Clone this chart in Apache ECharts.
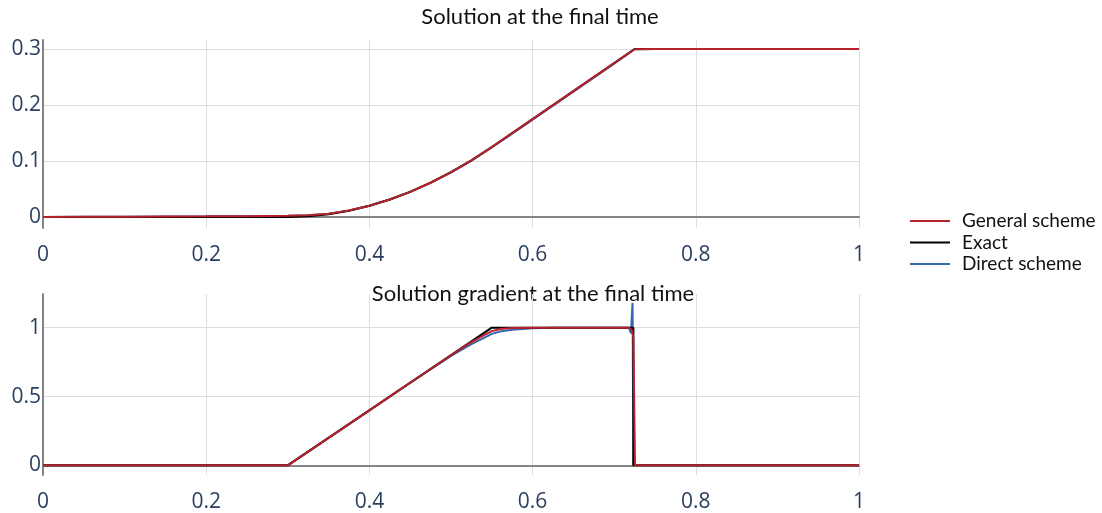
<!DOCTYPE html>
<html>
<head>
<meta charset="utf-8">
<script src="https://cdn.jsdelivr.net/npm/echarts@6/dist/echarts.min.js"></script>
<style>
html,body{margin:0;padding:0;background:#fff;}
#chart{width:1102px;height:513px;}
</style>
</head>
<body>
<div id="chart"></div>
<script>
// ---- Data ----
const seriesNames = ['General scheme', 'Exact', 'Direct scheme'];
const xTicks = [0, 0.2, 0.4, 0.6, 0.8, 1];
const yTicksTop = [0, 0.1, 0.2, 0.3];
const yTicksBottom = [0, 0.5, 1];

// Solution at the final time
const solX = [0,0.05,0.1,0.15,0.2,0.25,0.3,0.325,0.35,0.375,0.4,0.425,0.45,0.475,0.5,0.525,0.55,0.575,0.6,0.625,0.65,0.675,0.7,0.725,0.75,0.8,0.85,0.9,0.95,1];
const solExact   = [0,0,0,0,0,0,0,0.0013,0.005,0.0113,0.02,0.0313,0.045,0.0613,0.08,0.1013,0.125,0.15,0.175,0.2,0.225,0.25,0.275,0.3,0.3,0.3,0.3,0.3,0.3,0.3];
const solGeneral = [0.0002,0.0004,0.0006,0.0009,0.0012,0.0016,0.0022,0.0032,0.0058,0.0118,0.0203,0.0314,0.045,0.0612,0.0799,0.1011,0.1248,0.1498,0.1748,0.1998,0.2248,0.2498,0.2748,0.2995,0.3,0.3,0.3,0.3,0.3,0.3];
const solDirect  = [0.0002,0.0004,0.0006,0.0009,0.0012,0.0016,0.0022,0.0032,0.0058,0.0117,0.0202,0.0312,0.0448,0.0609,0.0796,0.1006,0.1241,0.149,0.174,0.199,0.224,0.249,0.274,0.2995,0.3,0.3,0.3,0.3,0.3,0.3];

// Solution gradient at the final time
const gradExactX = [0, 0.3, 0.55, 0.7235, 0.7235, 1];
const gradExactY = [0, 0, 1, 1, 0, 0];
const gradGeneralX = [0,0.3,0.35,0.4,0.45,0.5,0.525,0.54,0.55,0.56,0.575,0.6,0.65,0.7,0.718,0.7215,0.7235,0.7255,1];
const gradGeneralY = [0,0,0.2,0.4,0.6,0.8,0.895,0.945,0.975,0.99,0.997,1,1,1,1,0.985,0.93,0,0];
const gradDirectX = [0,0.3,0.35,0.4,0.45,0.5,0.525,0.54,0.55,0.56,0.575,0.6,0.625,0.7,0.718,0.7205,0.7225,0.7235,1];
const gradDirectY = [0,0,0.2,0.4,0.6,0.795,0.88,0.925,0.955,0.972,0.985,0.996,1,1,1,0.96,1.18,0,0];

const colors = { 'General scheme': '#b8232b', 'Exact': '#000000', 'Direct scheme': '#3566b0' };

function pairs(xs, ys) { return xs.map((x, i) => [x, ys[i]]); }

const chart = echarts.init(document.getElementById('chart'), null, { renderer: 'canvas' });

const tickFont = { fontFamily: 'Open Sans', fontSize: 21, color: '#2a3f5f' };
const gridLine = { show: true, lineStyle: { color: '#dedede', width: 1 } };
const zeroLine = { show: true, onZero: true, lineStyle: { color: '#858585', width: 2 } };

function xAxis(gi) {
  return {
    type: 'value', gridIndex: gi, min: 0, max: 1, interval: 0.2,
    axisLine: zeroLine, axisTick: { show: false },
    axisLabel: Object.assign({ margin: 17, formatter: v => String(+v.toFixed(2)) }, tickFont),
    splitLine: gridLine
  };
}
function yAxis(gi, min, max, ticks) {
  return {
    type: 'value', gridIndex: gi, min: min, max: max,
    axisLine: { show: true, onZero: false, lineStyle: { color: '#858585', width: 2 } },
    axisTick: { show: false, customValues: ticks },
    axisLabel: Object.assign({ margin: 2, customValues: ticks, formatter: v => String(+v.toFixed(2)) }, tickFont),
    splitLine: gridLine
  };
}

function mkSeries(name, data, gi) {
  return {
    name: name, type: 'line', xAxisIndex: gi, yAxisIndex: gi,
    data: data, symbol: 'none', showSymbol: false,
    lineStyle: { color: colors[name], width: 2 },
    itemStyle: { color: colors[name] },
    animation: false, clip: true
  };
}

const series = [
  mkSeries('Direct scheme', pairs(solX, solDirect), 0),
  mkSeries('Exact', pairs(solX, solExact), 0),
  mkSeries('General scheme', pairs(solX, solGeneral), 0),
  mkSeries('Direct scheme', pairs(gradDirectX, gradDirectY), 1),
  mkSeries('Exact', pairs(gradExactX, gradExactY), 1),
  mkSeries('General scheme', pairs(gradGeneralX, gradGeneralY), 1)
];

const titleFont = { fontFamily: 'Lato', fontSize: 22, fill: '#111' };

chart.setOption({
  animation: false,
  backgroundColor: '#fff',
  grid: [
    { left: 43, width: 816, top: 40, height: 188, containLabel: false },
    { left: 43, width: 816, top: 294, height: 188, containLabel: false }
  ],
  xAxis: [xAxis(0), xAxis(1)],
  yAxis: [yAxis(0, -0.0196, 0.3161, yTicksTop), yAxis(1, -0.07, 1.2448, yTicksBottom)],
  legend: {
    data: seriesNames, orient: 'vertical', left: 905, top: 206,
    icon: 'rect', itemWidth: 40, itemHeight: 2, itemGap: 1.5,
    textStyle: { fontFamily: 'Lato', fontSize: 19, color: '#111', lineHeight: 20, padding: [0, 0, 0, 7] }
  },
  graphic: [
    { type: 'text', x: 540, y: 17, style: Object.assign({ text: 'Solution at the final time', align: 'center', verticalAlign: 'middle' }, titleFont) },
    { type: 'text', x: 533, y: 294, style: Object.assign({ text: 'Solution gradient at the final time', align: 'center', verticalAlign: 'middle' }, titleFont) }
  ],
  series: series
});
</script>
</body>
</html>
